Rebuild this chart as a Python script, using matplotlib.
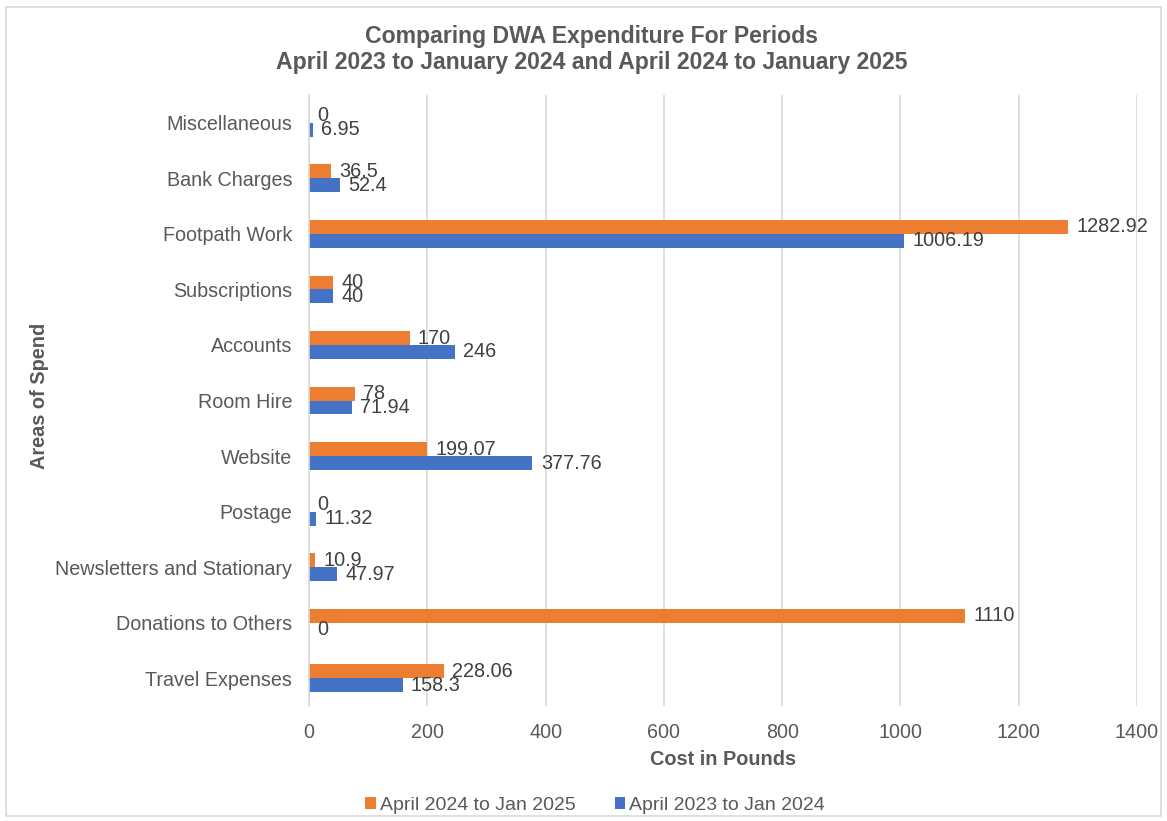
import numpy as np
import matplotlib.pyplot as plt
from matplotlib.patches import Rectangle

plt.rcParams['font.family'] = ['Liberation Sans', 'DejaVu Sans']

# categories bottom to top, as drawn
categories = ['Travel Expenses', 'Donations to Others', 'Newsletters and Stationary',
              'Postage', 'Website', 'Room Hire', 'Accounts', 'Subscriptions',
              'Footpath Work', 'Bank Charges', 'Miscellaneous']
spend_2024_25 = [228.06, 1110, 10.9, 0, 199.07, 78, 170, 40, 1282.92, 36.5, 0]
spend_2023_24 = [158.3, 0, 47.97, 11.32, 377.76, 71.94, 246, 40, 1006.19, 52.4, 6.95]

orange = '#ED7D31'
blue = '#4472C4'
txt = '#595959'

fig = plt.figure(figsize=(11.67, 8.21), dpi=100)
ax = fig.add_axes([0.2648, 0.140, 0.7095, 0.7443])

y = np.arange(len(categories))
h = 0.25
b1 = ax.barh(y + h / 2, spend_2024_25, height=h, color=orange, label='April 2024 to Jan 2025')
b2 = ax.barh(y - h / 2, spend_2023_24, height=h, color=blue, label='April 2023 to Jan 2024')

# value labels at the end of each bar
for bars, vals in ((b1, spend_2024_25), (b2, spend_2023_24)):
    for rect, v in zip(bars, vals):
        ax.annotate(f'{v:g}', (v, rect.get_y() + rect.get_height() / 2),
                    xytext=(6, 0), textcoords='offset points',
                    ha='left', va='center', fontsize=14.3, color='#404040')

ax.set_xlim(0, 1400)
ax.set_ylim(-0.5, len(categories) - 0.5)
ax.set_xticks(np.arange(0, 1401, 200))
ax.set_yticks(y)
ax.set_yticklabels(categories)
ax.tick_params(axis='both', length=0, labelsize=14.2, colors=txt)
ax.tick_params(axis='x', pad=12)
ax.tick_params(axis='y', pad=12)
ax.grid(axis='x', color='#D9D9D9', linewidth=1.2)
ax.set_axisbelow(True)
for s in ['top', 'right', 'bottom']:
    ax.spines[s].set_visible(False)
ax.spines['left'].set_color('#D9D9D9')
ax.spines['left'].set_linewidth(1.2)

ax.set_xlabel('Cost in Pounds', fontsize=14.3, fontweight='bold', color=txt, labelpad=6)
ax.set_ylabel('Areas of Spend', fontsize=14.3, fontweight='bold', color=txt)
ax.yaxis.set_label_coords(-0.314, 0.508)

fig.text(0.507, 0.94, 'Comparing DWA Expenditure For Periods\nApril 2023 to January 2024 and April 2024 to January 2025',
         ha='center', va='center', fontsize=16.6, fontweight='bold', color=txt, linespacing=1.15)

fig.legend(handles=[b1, b2], loc='center', bbox_to_anchor=(0.51, 0.019), ncol=2,
           frameon=False, fontsize=14, handlelength=0.55, handleheight=0.6,
           handletextpad=0.2, columnspacing=2.0, labelcolor=txt)

fig.patches.append(Rectangle((0.005, 0.006), 0.99, 0.985, transform=fig.transFigure,
                             fill=False, edgecolor='#D9D9D9', linewidth=1.2))

fig.savefig('out.png', dpi=100, facecolor='white')
